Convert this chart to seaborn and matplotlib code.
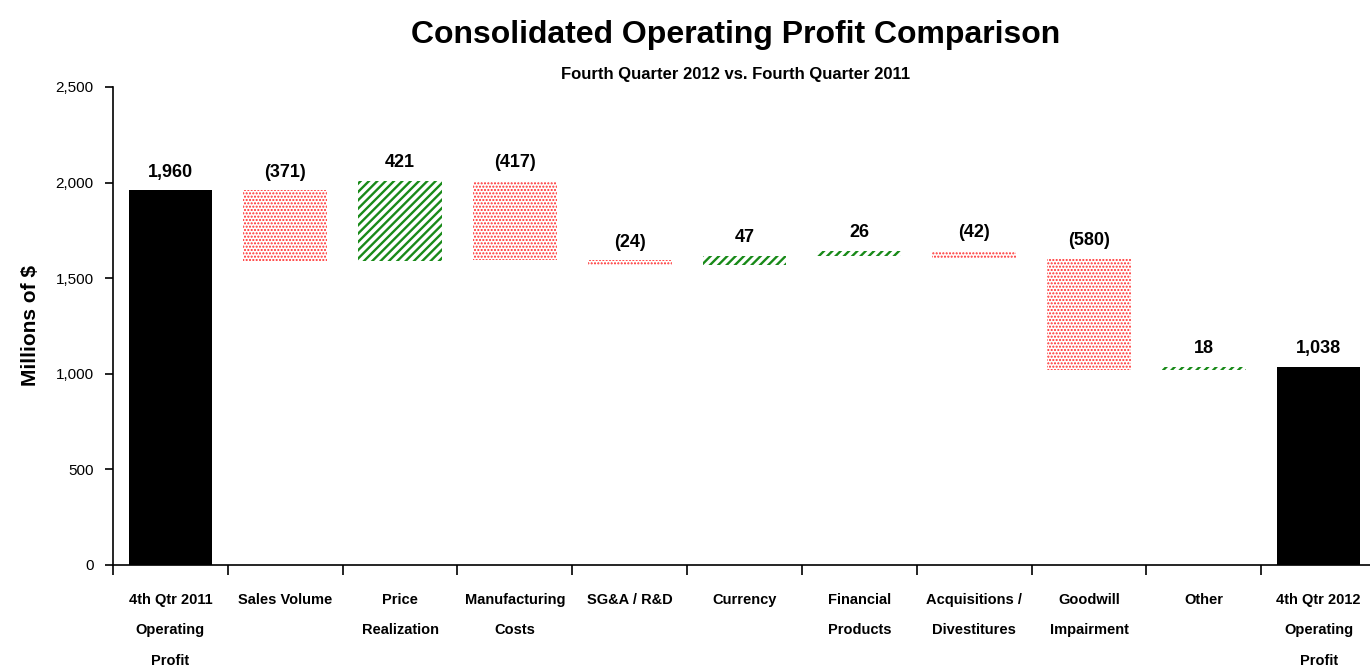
import matplotlib
matplotlib.use("Agg")
import matplotlib.pyplot as plt
import seaborn as sns
import numpy as np
import pandas as pd

categories = ["4th Qtr 2011\nOperating\nProfit", "Sales Volume", "Price\nRealization",
              "Manufacturing\nCosts", "SG&A / R&D", "Currency", "Financial\nProducts",
              "Acquisitions /\nDivestitures", "Goodwill\nImpairment", "Other",
              "4th Qtr 2012\nOperating\nProfit"]
start_value = 1960
changes = [-371, 421, -417, -24, 47, 26, -42, -580, 18]
end_value = 1038
yticks = [0, 500, 1000, 1500, 2000, 2500]

sns.set_theme(style="white")
FAM = ["Liberation Sans", "DejaVu Sans"]
plt.rcParams["font.family"] = FAM
for k in ["text.color", "axes.labelcolor", "xtick.color", "ytick.color"]:
    plt.rcParams[k] = "black"

fig = plt.figure(figsize=(13.7, 6.69), dpi=100)
ax = fig.add_axes([113/1370, 1-565/669, 1263/1370, (565-87)/669])

n = len(categories)
totals = [start_value] + [np.nan]*(n-2) + [end_value]
df = pd.DataFrame({"cat": categories, "val": totals})
sns.barplot(data=df, x="cat", y="val", order=categories, color="black",
            width=0.73, saturation=1, ax=ax, linewidth=0)

# floating bars
running = start_value
for i, ch in enumerate(changes, start=1):
    if ch >= 0:
        plt.rcParams["hatch.linewidth"] = 1.7
        bottom, h = running, ch
        ax.bar(i, h, bottom=bottom, width=0.73, color="white", edgecolor="#188a18",
               hatch="////", linewidth=0)
    else:
        plt.rcParams["hatch.linewidth"] = 1.0
        bottom, h = running + ch, -ch
        ax.bar(i, h, bottom=bottom, width=0.73, color="white", edgecolor="#ff2a2a",
               hatch=".....", linewidth=0)
    top = running + max(ch, 0)
    lbl = f"{ch:,}" if ch >= 0 else f"({-ch:,})"
    ax.annotate(lbl, (i, top), xytext=(0, 7), textcoords="offset points",
                ha="center", va="bottom", fontsize=13, fontweight="bold", family=FAM)
    running += ch

for i, v in [(0, start_value), (n-1, end_value)]:
    ax.annotate(f"{v:,}", (i, v), xytext=(0, 7), textcoords="offset points",
                ha="center", va="bottom", fontsize=13, fontweight="bold", family=FAM)

ax.set_xlim(-0.5, n-0.5)
ax.set_ylim(0, 2500)
ax.set_yticks(yticks)
ax.set_yticklabels([f"{t:,}" for t in yticks], fontsize=11, family=FAM)
ax.set_xticks(range(n))
ax.set_xticklabels(categories, fontsize=10.5, fontweight="bold", family=FAM, linespacing=2.5)
ax.set_xticks(np.arange(-0.5, n, 1.0), minor=True)
ax.tick_params(axis="x", which="major", length=0, pad=20)
ax.tick_params(axis="x", which="minor", length=7, width=1.2, color="black", direction="out", bottom=True)
ax.tick_params(axis="y", length=6, width=1.2, color="black", direction="out", left=True, pad=8)

ax.set_xlabel("")
ax.set_ylabel("")
fig.text(30/1370, 1-326/669, "Millions of $", rotation=90, ha="center", va="center",
         fontsize=15, fontweight="bold", family=FAM)
for s in ["top", "right"]:
    ax.spines[s].set_visible(False)
for s in ["left", "bottom"]:
    ax.spines[s].set_color("black")
    ax.spines[s].set_linewidth(1.2)
ax.grid(False)

fig.text(0.537, 0.947, "Consolidated Operating Profit Comparison", ha="center", va="center",
         fontsize=23, fontweight="bold", family=FAM)
fig.text(0.537, 0.888, "Fourth Quarter 2012 vs. Fourth Quarter 2011", ha="center", va="center",
         fontsize=12, fontweight="bold", family=FAM)

fig.savefig("out.png", dpi=100)
